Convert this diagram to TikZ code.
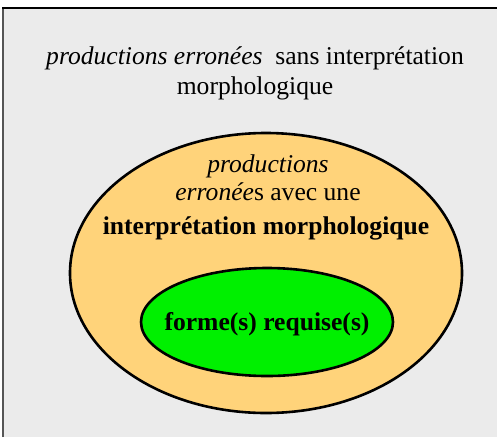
\documentclass[tikz,border=0pt]{standalone}
\usepackage{fontspec}
\usetikzlibrary{shapes.geometric}
\setmainfont{Liberation Serif}
\newfontfamily\timesfont{Liberation Serif}
\definecolor{bggray}{RGB}{235,235,235}
\definecolor{orangefill}{RGB}{255,211,122}
\definecolor{greenfill}{RGB}{0,240,0}
\definecolor{leftgray}{RGB}{85,85,85}
\tikzset{
  lbl/.style={anchor=base, inner sep=0pt, font=\timesfont\fontsize{25.6}{28}\selectfont},
  ring/.style={draw=black, line width=2.6pt, ellipse, inner sep=0pt}
}
\begin{document}
\begin{tikzpicture}[x=1pt,y=-1pt]
\useasboundingbox (0,0) rectangle (497,437);
\fill[bggray] (3,8) rectangle (497,437);
\draw[leftgray, line width=1.6pt] (3,437) -- (3,8);
\draw[black, line width=1.6pt] (2.2,8) -- (497,8);
\node[ring, fill=orangefill, minimum width=392pt, minimum height=280pt] (outer) at (266,273) {};
\node[ring, fill=greenfill, minimum width=252pt, minimum height=108pt] (inner) at (267,322) {};
\node[lbl] (t1) at (255,64) {\itshape productions erronées\upshape\ \ sans interprétation};
\node[lbl] (t2) at (255,94) {morphologique};
\node[lbl] (i1) at (268,172) {\itshape productions};
\node[lbl] (i2) at (268,200) {\itshape erronée\upshape s avec une};
\node[lbl] (i3) at (266,234) {\bfseries interprétation morphologique};
\node[lbl] (g1) at (267,330) {\bfseries forme(s) requise(s)};
\end{tikzpicture}
\end{document}
